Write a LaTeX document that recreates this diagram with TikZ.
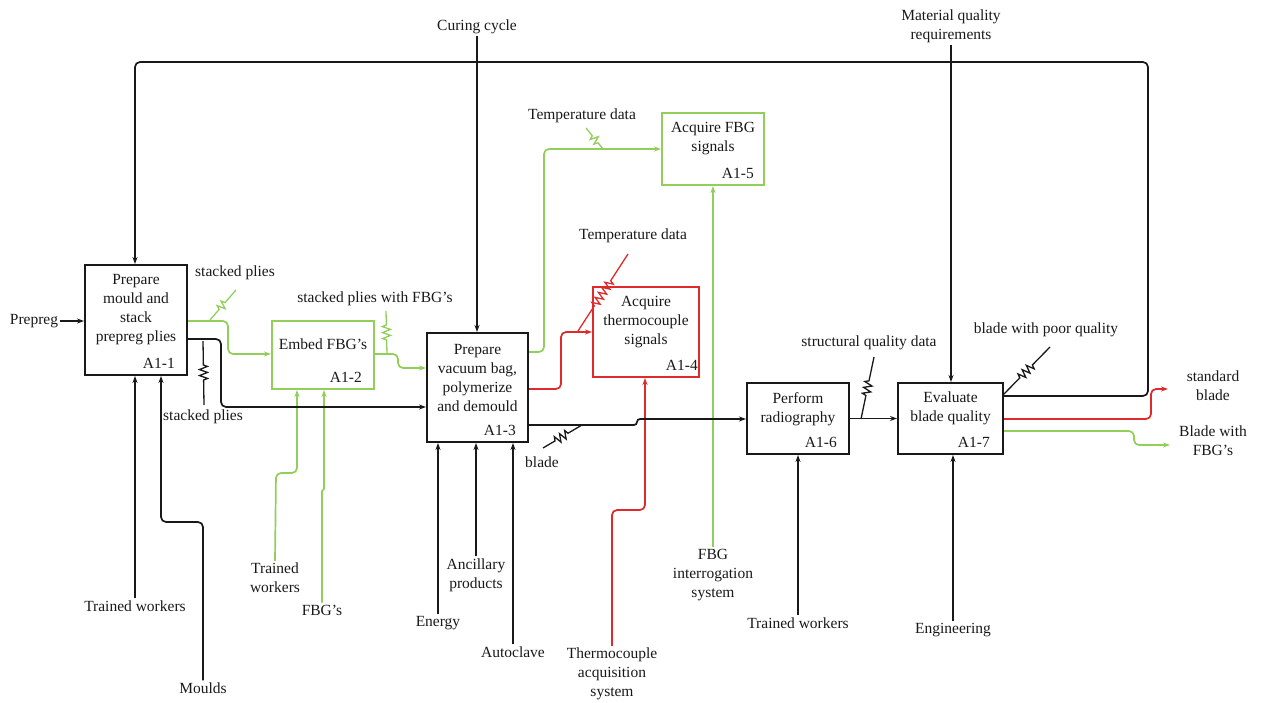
\documentclass[tikz,border=0pt]{standalone}
\usepackage{fontspec}
\setmainfont{Liberation Serif}
\usetikzlibrary{arrows.meta,decorations.pathmorphing,calc}
\definecolor{ink}{RGB}{25,25,25}
\definecolor{fbggreen}{RGB}{146,206,90}
\definecolor{tcred}{RGB}{222,42,42}

\begin{document}
\begin{tikzpicture}[x=1pt,y=-1pt,
  every node/.style={font=\fontsize{15.5}{19}\selectfont, inner sep=2pt, text=ink},
  lbl/.style={align=center},
  box/.style={draw=ink, line width=2pt, inner sep=0pt},
  gbox/.style={box, draw=fbggreen},
  rbox/.style={box, draw=tcred},
  btext/.style={anchor=north, align=center},
  idtext/.style={anchor=south east},
  flow/.style={line width=1.7pt, rounded corners=5pt, -{Stealth[length=7pt,width=5pt]}},
  squiggle/.style={line width=1.3pt, decorate,
    decoration={zigzag, segment length=6pt, amplitude=4pt, pre length=#1, post length=#1}},
  squiggle/.default=14pt
]
\useasboundingbox (0,0) rectangle (1261,703);

% activity boxes
\node[box,  minimum width=102pt, minimum height=110pt] (a1) at (136,320) {};
\node[gbox, minimum width=102pt, minimum height=68pt]  (a2) at (323,355) {};
\node[box,  minimum width=101pt, minimum height=109pt] (a3) at (477.5,387.5) {};
\node[rbox, minimum width=106pt, minimum height=90pt]  (a4) at (646,332) {};
\node[gbox, minimum width=102pt, minimum height=72pt]  (a5) at (713,149) {};
\node[box,  minimum width=102pt, minimum height=71pt]  (a6) at (798,418.5) {};
\node[box,  minimum width=105pt, minimum height=71pt]  (a7) at (950.5,418.5) {};

% activity names and numbers
\node[btext] at ($(a1.north)+(0,8.5)$) {Prepare\\mould and\\stack\\prepreg plies};
\node[btext] at ($(a2.north)+(0,16.5)$) {Embed FBG’s};
\node[btext] at ($(a3.north)+(0,10)$) {Prepare\\vacuum bag,\\polymerize\\and demould};
\node[btext] at ($(a4.north)+(0,8)$) {Acquire\\thermocouple\\signals};
\node[btext] at ($(a5.north)+(0,8)$) {Acquire FBG\\signals};
\node[btext] at ($(a6.north)+(0,8)$) {Perform\\radiography};
\node[btext] at ($(a7.north)+(0,8)$) {Evaluate\\blade quality};
\node[idtext] at ($(a1.south east)+(-11,-5)$) {A1-1};
\node[idtext] at ($(a2.south east)+(-11,-5)$) {A1-2};
\node[idtext] at ($(a3.south east)+(-11,-5)$) {A1-3};
\node[idtext] at ($(a4.south east)+(0,-5)$) {A1-4};
\node[idtext] at ($(a5.south east)+(-9,-5)$) {A1-5};
\node[idtext] at ($(a6.south east)+(-11,-5)$) {A1-6};
\node[idtext] at ($(a7.south east)+(-12,-5)$) {A1-7};

% external labels
\node[lbl] (prepreg) at (34,321) {Prepreg};
\node[lbl] (cure) at (477,27) {Curing cycle};
\node[lbl] (mqr) at (951,26.5) {Material quality\\requirements};
\node[lbl] (sp1) at (235,273) {stacked plies};
\node[lbl] (sp2) at (203,417) {stacked plies};
\node[lbl] (spf) at (375,299) {stacked plies with FBG’s};
\node[lbl] (td1) at (582,116) {Temperature data};
\node[lbl] (td2) at (633,236) {Temperature data};
\node[lbl] (blade) at (542,462) {blade};
\node[lbl] (sqd) at (869,343) {structural quality data};
\node[lbl] (bpq) at (1046,330) {blade with poor quality};
\node[lbl] (std) at (1213,386) {standard\\blade};
\node[lbl] (bwf) at (1213,441) {Blade with\\FBG’s};
\node[lbl] (tw1) at (135,606) {Trained workers};
\node[lbl] (moulds) at (203,688) {Moulds};
\node[lbl] (tw2) at (275,578) {Trained\\workers};
\node[lbl] (fbgs) at (322,610) {FBG’s};
\node[lbl] (energy) at (438,623) {Energy};
\node[lbl] (anc) at (476,575) {Ancillary\\products};
\node[lbl] (autoclave) at (513,652) {Autoclave};
\node[lbl] (tas) at (612,674) {Thermocouple\\acquisition\\system};
\node[lbl] (fis) at (713,575) {FBG\\interrogation\\system};
\node[lbl] (tw3) at (798,623) {Trained workers};
\node[lbl] (eng) at (953,630) {Engineering};

\coordinate (stdend) at (1168,389);
\coordinate (bwfend) at (1170,445);

% inputs and controls
\draw[flow,ink] (prepreg.east) -- (a1.west |- prepreg.east);
\draw[flow,ink] (cure.south) -- (cure.south |- a3.north);
\draw[flow,ink] (mqr.south) -- (mqr.south |- a7.north);
\draw[flow,ink] (a7.east |- 0,396) -- (1148,396) -- (1148,62) -- (135,62) -- (a1.north -| 135,0);

% mechanisms
\draw[flow,ink] (tw1.north) -- (tw1.north |- a1.south);
\draw[flow,ink] (moulds.north) -- (203,522) -- (161,522) -- (a1.south -| 161,0);
\draw[flow,fbggreen] (tw2.north) -- (276,473) -- (297,473) -- (a2.south -| 297,0);
\draw[flow,fbggreen,rounded corners=1pt] (fbgs.north) -- (322,490) -- (324,490) -- (a2.south -| 324,0);
\draw[flow,ink] (energy.north) -- (energy.north |- a3.south);
\draw[flow,ink] (anc.north) -- (anc.north |- a3.south);
\draw[flow,ink] (autoclave.north) -- (autoclave.north |- a3.south);
\draw[flow,tcred] (tas.north) -- (612,510) -- (645,510) -- (a4.south -| 645,0);
\draw[flow,fbggreen] (fis.north) -- (fis.north |- a5.south);
\draw[flow,ink] (tw3.north) -- (tw3.north |- a6.south);
\draw[flow,ink] (eng.north) -- (eng.north |- a7.south);

% outputs
\draw[flow,fbggreen] (a1.east |- 0,321) -- (228,321) -- (228,354) -- (a2.west |- 0,354);
\draw[flow,ink] (a1.east |- 0,339) -- (221,339) -- (221,407) -- (a3.west |- 0,407);
\draw[flow,fbggreen] (a2.east |- 0,354) -- (398,354) -- (398,368) -- (a3.west |- 0,368);
\draw[flow,fbggreen] (a3.east |- 0,352) -- (544,352) -- (544,149) -- (a5.west |- 0,149);
\draw[flow,tcred] (a3.east |- 0,389) -- (561,389) -- (561,332) -- (a4.west |- 0,332);
\draw[flow,ink,rounded corners=3pt] (a3.east |- 0,425) -- (637,425) -- (637,419) -- (a6.west |- 0,419);
\draw[flow,ink] (a6.east) -- (a7.west);
\draw[flow,tcred] (a7.east |- 0,419) -- (1151,419) -- (1151,389) -- (stdend);
\draw[flow,fbggreen] (a7.east |- 0,431) -- (1134,431) -- (1134,445) -- (bwfend);

% label squiggles
\draw[squiggle,fbggreen] (210,320) -- (236,290);
\draw[squiggle=24pt,ink] (203,341) -- (204,405);
\draw[squiggle,fbggreen] (387,354) -- (386,311);
\draw[squiggle=8pt,fbggreen] (603,149) -- (586,128);
\draw[squiggle=30pt,tcred] (578,331) -- (628,254);
\draw[squiggle,ink] (543,448) -- (582,425);
\draw[squiggle=24pt,ink] (861,419) -- (874,357);
\draw[squiggle=24pt,ink] (1003,395) -- (1050,347);
\end{tikzpicture}
\end{document}
